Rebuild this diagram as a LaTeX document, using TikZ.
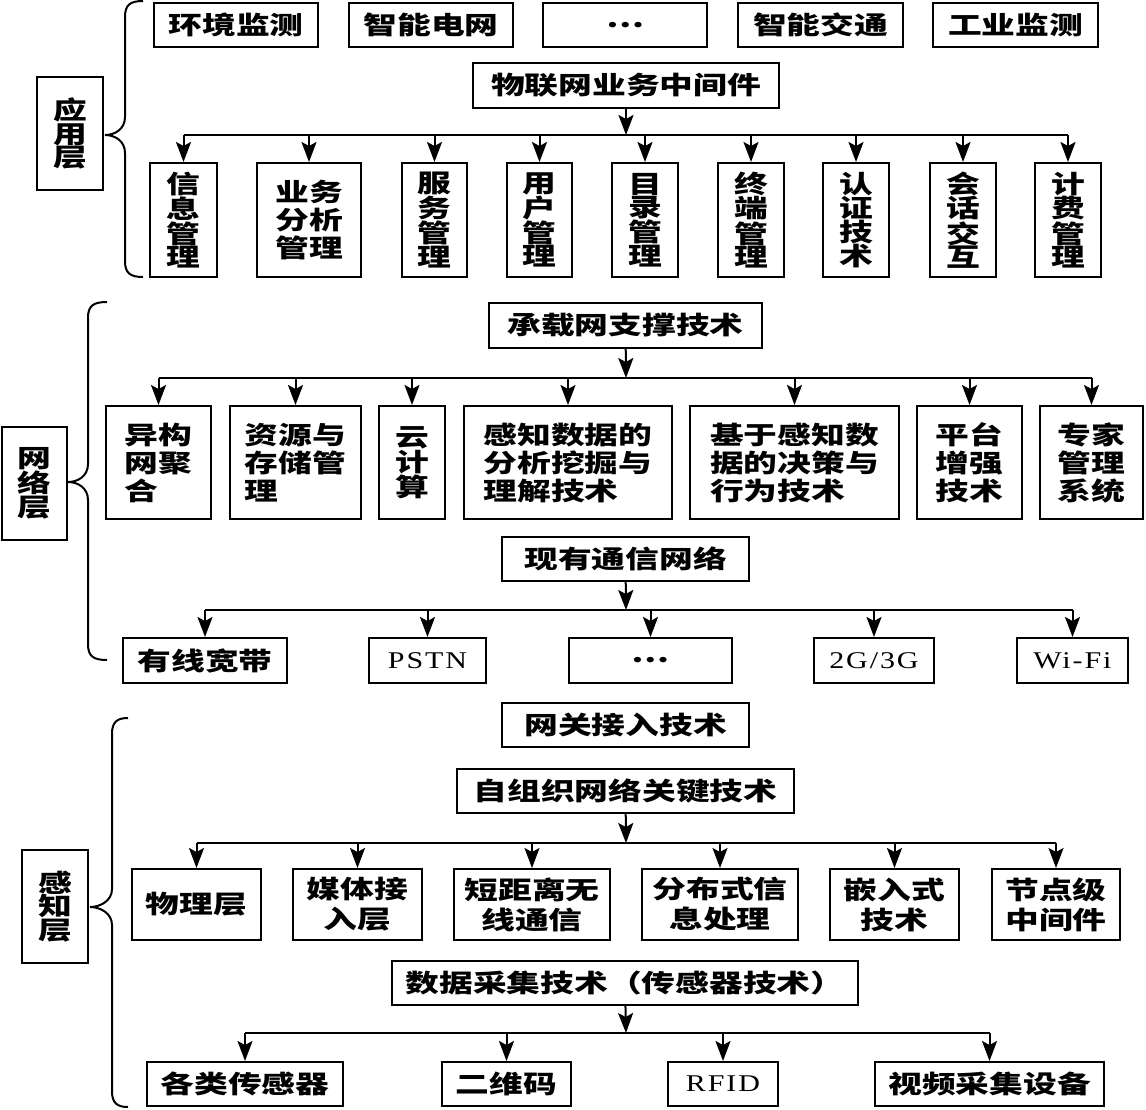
\documentclass[tikz,border=0pt]{standalone}
\usepackage{fontspec}
\newfontfamily\cjk{Noto Sans CJK SC}[FakeStretch=1.35]
\newfontfamily\latn{Liberation Serif}[FakeStretch=1.25,LetterSpace=8]
\usetikzlibrary{arrows.meta}

% layer brace: end x, straight x, cusp x, top y, mid y, bottom y
\newcommand\layerbrace[6]{%
  \draw[line width=2pt] (#1,#4) .. controls ({#2+5},#4) and (#2,{#4+4}) .. (#2,{#4+16})
    -- (#2,{#5-18}) .. controls (#2,{#5-6}) and ({#3+10},#5) .. (#3,#5)
    .. controls ({#3+10},#5) and (#2,{#5+6}) .. (#2,{#5+18})
    -- (#2,{#6-16}) .. controls (#2,{#6-4}) and ({#2+5},#6) .. (#1,#6);}

\begin{document}
\begin{tikzpicture}[x=1pt,y=-1pt,
  rect/.style n args={4}{minimum width={#3-#1},minimum height={#4-#2},
    at={({(#1+#3)/2},{(#2+#4)/2})}},
  box/.style={draw,line width=2pt,inner sep=0pt,align=center,
    font=\cjk\bfseries\fontsize{25}{28}\selectfont},
  latbox/.style={box,font=\latn\fontsize{24}{26}\selectfont},
  vstack/.style={font=\cjk\bfseries\fontsize{25}{23.5}\selectfont},
  twoline/.style={font=\cjk\bfseries\fontsize{25}{30}\selectfont},
  link/.style={line width=2pt},
  arr/.style={link,-{Stealth[length=20pt,width=15pt,inset=4pt]}}]
  \useasboundingbox (0,0) rectangle (1146,1109);

  % application layer
  \node[box,vstack,rect={37}{77}{103}{190}] (app) {应\\用\\层};
  \layerbrace{143}{125}{105}{1}{135}{277}
  \node[box,rect={154}{3}{318}{47}] (envmon) {环境监测};
  \node[box,rect={349}{3}{513}{47}] (grid) {智能电网};
  \node[box,rect={543}{3}{707}{47}] (appdots) {⋯};
  \node[box,rect={738}{3}{903}{47}] (traffic) {智能交通};
  \node[box,rect={933}{3}{1098}{47}] (indmon) {工业监测};
  \node[box,rect={473}{63}{779}{108}] (bizmw) {物联网业务中间件};
  \node[box,vstack,rect={150}{163}{217}{277}] (a1) {信\\息\\管\\理};
  \node[box,rect={257}{163}{361}{277}] (a2) {业务\\分析\\管理};
  \node[box,vstack,rect={402}{163}{467}{277}] (a3) {服\\务\\管\\理};
  \node[box,vstack,rect={507}{163}{572}{277}] (a4) {用\\户\\管\\理};
  \node[box,vstack,rect={612}{163}{678}{277}] (a5) {目\\录\\管\\理};
  \node[box,vstack,rect={718}{163}{784}{277}] (a6) {终\\端\\管\\理};
  \node[box,vstack,rect={823}{163}{889}{277}] (a7) {认\\证\\技\\术};
  \node[box,vstack,rect={930}{163}{996}{277}] (a8) {会\\话\\交\\互};
  \node[box,vstack,rect={1035}{163}{1101}{277}] (a9) {计\\费\\管\\理};
  \coordinate (busA) at (626,135);
  \draw[arr] (bizmw) -- (busA);
  \draw[link] (busA -| a1) -- (busA -| a9);
  \foreach \i in {1,...,9} \draw[arr] (busA -| a\i) -- (a\i.north);

  % network layer
  \node[box,vstack,rect={2}{427}{67}{540}] (net) {网\\络\\层};
  \layerbrace{107}{88}{68}{302}{482}{660}
  \node[box,rect={489}{303}{762}{348}] (carrier) {承载网支撑技术};
  \node[box,align=left,rect={106}{406}{211}{519}] (n1) {异构\\网聚\\合};
  \node[box,align=left,rect={230}{406}{361}{519}] (n2) {资源与\\存储管\\理};
  \node[box,vstack,rect={379}{406}{445}{519}] (n3) {云\\计\\算};
  \node[box,align=left,rect={464}{406}{672}{519}] (n4) {感知数据的\\分析挖掘与\\理解技术};
  \node[box,align=left,rect={690}{406}{899}{519}] (n5) {基于感知数\\据的决策与\\行为技术};
  \node[box,rect={917}{406}{1022}{519}] (n6) {平台\\增强\\技术};
  \node[box,rect={1040}{406}{1143}{519}] (n7) {专家\\管理\\系统};
  \coordinate (busB) at (626,378);
  \draw[arr] (carrier) -- (busB);
  \draw[link] (busB -| n1) -- (busB -| n7);
  \foreach \i in {1,...,7} \draw[arr] (busB -| n\i) -- (n\i.north);
  \node[box,rect={502}{537}{749}{581}] (commnet) {现有通信网络};
  \node[box,rect={123}{638}{287}{683}] (c1) {有线宽带};
  \node[latbox,rect={369}{638}{486}{683}] (c2) {PSTN};
  \node[box,rect={569}{638}{732}{683}] (c3) {⋯};
  \node[latbox,rect={814}{638}{934}{683}] (c4) {2G/3G};
  \node[latbox,rect={1017}{638}{1128}{683}] (c5) {Wi-Fi};
  \coordinate (busC) at (626,610);
  \draw[arr] (commnet) -- (busC);
  \draw[link] (busC -| c1) -- (busC -| c5);
  \foreach \i in {1,...,5} \draw[arr] (busC -| c\i) -- (c\i.north);

  % perception layer
  \node[box,vstack,rect={22}{850}{88}{963}] (sense) {感\\知\\层};
  \layerbrace{128}{112}{90}{718}{907}{1107}
  \node[box,rect={502}{703}{749}{747}] (gateway) {网关接入技术};
  \node[box,rect={457}{769}{794}{813}] (selforg) {自组织网络关键技术};
  \node[box,rect={132}{869}{261}{940}] (s1) {物理层};
  \node[box,twoline,rect={293}{869}{422}{940}] (s2) {媒体接\\入层};
  \node[box,twoline,rect={454}{869}{610}{940}] (s3) {短距离无\\线通信};
  \node[box,twoline,rect={642}{869}{798}{940}] (s4) {分布式信\\息处理};
  \node[box,twoline,rect={830}{869}{959}{940}] (s5) {嵌入式\\技术};
  \node[box,twoline,rect={992}{869}{1120}{940}] (s6) {节点级\\中间件};
  \coordinate (busD) at (626,843);
  \draw[arr] (selforg) -- (busD);
  \draw[link] (busD -| s1) -- (busD -| s6);
  \foreach \i in {1,...,6} \draw[arr] (busD -| s\i) -- (s\i.north);
  \node[box,rect={392}{961}{858}{1005}] (acquis) {数据采集技术（传感器技术）};
  \node[box,rect={147}{1062}{343}{1106}] (d1) {各类传感器};
  \node[box,rect={442}{1062}{571}{1106}] (d2) {二维码};
  \node[latbox,rect={668}{1062}{778}{1106}] (d3) {RFID};
  \node[box,rect={875}{1062}{1104}{1106}] (d4) {视频采集设备};
  \coordinate (busE) at (626,1033);
  \draw[arr] (acquis) -- (busE);
  \draw[link] (busE -| d1) -- (busE -| d4);
  \foreach \i in {1,...,4} \draw[arr] (busE -| d\i) -- (d\i.north);
\end{tikzpicture}
\end{document}
